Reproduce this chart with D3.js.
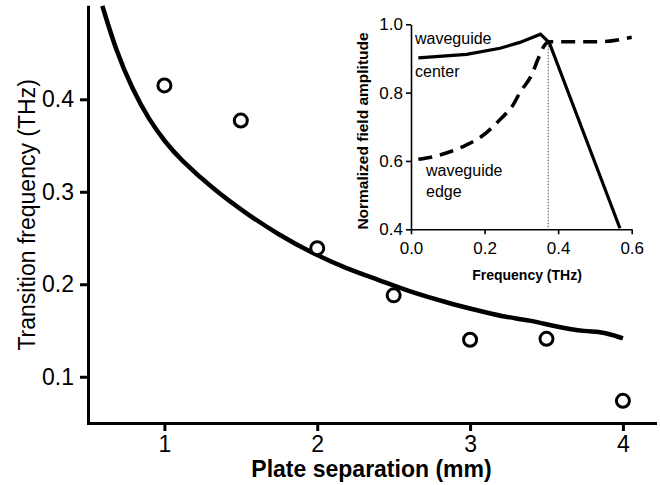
<!DOCTYPE html>
<html>
<head>
<meta charset="utf-8">
<title>Transition frequency vs plate separation</title>
<script src="https://cdn.jsdelivr.net/npm/d3@7"></script>
<style>
  body { margin: 0; background: #fff; }
  svg text { font-family: "Liberation Sans", Arial, sans-serif; fill: #000; }
</style>
</head>
<body>
<div id="chart"></div>
<script>
// main plot: measured points (open circles)
var plateSep = [1, 1.5, 2, 2.5, 3, 3.5, 4];
var transFreq = [0.415, 0.377, 0.239, 0.188, 0.14, 0.141, 0.074];

// main plot: theory curve
var fitSep = [0.594, 0.682, 0.79, 0.9, 1.009, 1.096, 1.314, 1.533, 1.751, 1.969, 2.188,
              2.406, 2.603, 2.865, 3.04, 3.214, 3.389, 3.564, 3.76, 3.867, 4.0];
var fitFreq = [0.501, 0.4533, 0.411, 0.3776, 0.353, 0.3365, 0.3035, 0.2767, 0.2532, 0.2335, 0.2172,
               0.2046, 0.1919, 0.1794, 0.1721, 0.1649, 0.1613, 0.1541, 0.1487, 0.1487, 0.1415];

var mainXTicks = [1, 2, 3, 4];
var mainYTicks = [0.1, 0.2, 0.3, 0.4];

// inset: waveguide center (solid) and edge (dashed)
var centerFreq = [0.02, 0.151, 0.242, 0.296, 0.352, 0.376, 0.568];
var centerAmp = [0.902, 0.912, 0.930, 0.947, 0.971, 0.946, 0.403];
var edgeFreq = [0.02, 0.061, 0.106, 0.151, 0.197, 0.242, 0.278, 0.296, 0.328, 0.346, 0.364, 0.378, 0.514, 0.6];
var edgeAmp = [0.605, 0.6125, 0.627, 0.647, 0.676, 0.721, 0.765, 0.80, 0.852, 0.9, 0.94, 0.949, 0.949, 0.962];
var cutoffFreq = 0.373;

var insetXTicks = [0, 0.2, 0.4, 0.6];
var insetYTicks = [0.4, 0.6, 0.8, 1.0];

var svg = d3.select("#chart")
    .append("svg")
    .attr("width", 660)
    .attr("height", 485);

// ---------- main plot ----------
var x = d3.scaleLinear().domain([0.5, 4.21]).range([88, 655]);
var y = d3.scaleLinear().domain([0.05, 0.5]).range([423, 6.8]);

var gx = svg.append("g")
    .attr("transform", "translate(0," + y.range()[0] + ")")
    .call(d3.axisBottom(x).tickValues(mainXTicks).tickSize(8).tickPadding(5)
        .tickSizeOuter(0).tickFormat(d3.format("d")));

var gy = svg.append("g")
    .attr("transform", "translate(" + x.range()[0] + ",0)")
    .call(d3.axisLeft(y).tickValues(mainYTicks).tickSize(8).tickPadding(6)
        .tickSizeOuter(0).tickFormat(d3.format(".1f")));

[gx, gy].forEach(function(g) {
    g.attr("font-size", 23).attr("font-family", null);
    g.select(".domain").attr("stroke-width", 3).attr("stroke-linecap", "square");
    g.selectAll(".tick line").attr("stroke-width", 3);
});

svg.append("text")
    .attr("transform", "translate(35," + ((y.range()[0] + y.range()[1]) / 2) + ") rotate(-90)")
    .attr("text-anchor", "middle")
    .attr("font-size", 23)
    .text("Transition frequency (THz)");

svg.append("text")
    .attr("x", (x.range()[0] + x.range()[1]) / 2)
    .attr("y", 476.5)
    .attr("text-anchor", "middle")
    .attr("font-size", 23)
    .attr("font-weight", "bold")
    .text("Plate separation (mm)");

var fitLine = d3.line()
    .x(function(d, i) { return x(fitSep[i]); })
    .y(function(d) { return y(d); })
    .curve(d3.curveBasis);

svg.append("path")
    .datum(fitFreq)
    .attr("d", fitLine)
    .attr("fill", "none")
    .attr("stroke", "#000")
    .attr("stroke-width", 4.5)
    .attr("stroke-linejoin", "round");

svg.selectAll("circle.meas")
    .data(transFreq)
    .enter()
    .append("circle")
    .attr("class", "meas")
    .attr("cx", function(d, i) { return x(plateSep[i]); })
    .attr("cy", function(d) { return y(d); })
    .attr("r", 6.5)
    .attr("fill", "#fff")
    .attr("stroke", "#000")
    .attr("stroke-width", 3);

// ---------- inset ----------
var xi = d3.scaleLinear().domain([0, 0.6]).range([411, 631.7]);
var yi = d3.scaleLinear().domain([0.4, 1.0]).range([229.3, 24.3]);

var gxi = svg.append("g")
    .attr("transform", "translate(0," + yi.range()[0] + ")")
    .call(d3.axisBottom(xi).tickValues(insetXTicks).tickSize(5).tickPadding(8)
        .tickSizeOuter(0).tickFormat(d3.format(".1f")));

var gyi = svg.append("g")
    .attr("transform", "translate(" + xi.range()[0] + ",0)")
    .call(d3.axisLeft(yi).tickValues(insetYTicks).tickSize(5).tickPadding(3)
        .tickSizeOuter(0).tickFormat(d3.format(".1f")));

[gxi, gyi].forEach(function(g) {
    g.attr("font-size", 17).attr("font-family", null);
    g.select(".domain").attr("stroke-width", 1.6);
    g.selectAll(".tick line").attr("stroke-width", 1.6);
});

svg.append("text")
    .attr("transform", "translate(368,131) rotate(-90)")
    .attr("text-anchor", "middle")
    .attr("font-size", 15.5)
    .attr("font-weight", "bold")
    .text("Normalized field amplitude");

svg.append("text")
    .attr("x", 527)
    .attr("y", 279.5)
    .attr("text-anchor", "middle")
    .attr("font-size", 14)
    .attr("font-weight", "bold")
    .text("Frequency (THz)");

// dotted cutoff marker
svg.append("line")
    .attr("x1", xi(cutoffFreq)).attr("x2", xi(cutoffFreq))
    .attr("y1", yi(0.946)).attr("y2", yi(0.4))
    .attr("stroke", "#555")
    .attr("stroke-width", 1)
    .attr("stroke-dasharray", "1.5,1.5");

var centerLine = d3.line()
    .x(function(d, i) { return xi(centerFreq[i]); })
    .y(function(d) { return yi(d); });

svg.append("path")
    .datum(centerAmp)
    .attr("d", centerLine)
    .attr("fill", "none")
    .attr("stroke", "#000")
    .attr("stroke-width", 3.2)
    .attr("stroke-linejoin", "miter");

var edgeLine = d3.line()
    .x(function(d, i) { return xi(edgeFreq[i]); })
    .y(function(d) { return yi(d); })
    .curve(d3.curveMonotoneX);

svg.append("path")
    .datum(edgeAmp)
    .attr("d", edgeLine)
    .attr("fill", "none")
    .attr("stroke", "#000")
    .attr("stroke-width", 3.6)
    .attr("stroke-dasharray", "14,8");

// curve labels
var labels = [
    { t: "waveguide", x: 415, y: 44 },
    { t: "center", x: 415, y: 76.5 },
    { t: "waveguide", x: 426, y: 176 },
    { t: "edge", x: 426, y: 196.5 }
];
svg.selectAll("text.lbl")
    .data(labels)
    .enter()
    .append("text")
    .attr("class", "lbl")
    .attr("x", function(d) { return d.x; })
    .attr("y", function(d) { return d.y; })
    .attr("font-size", 16)
    .text(function(d) { return d.t; });
</script>
</body>
</html>
